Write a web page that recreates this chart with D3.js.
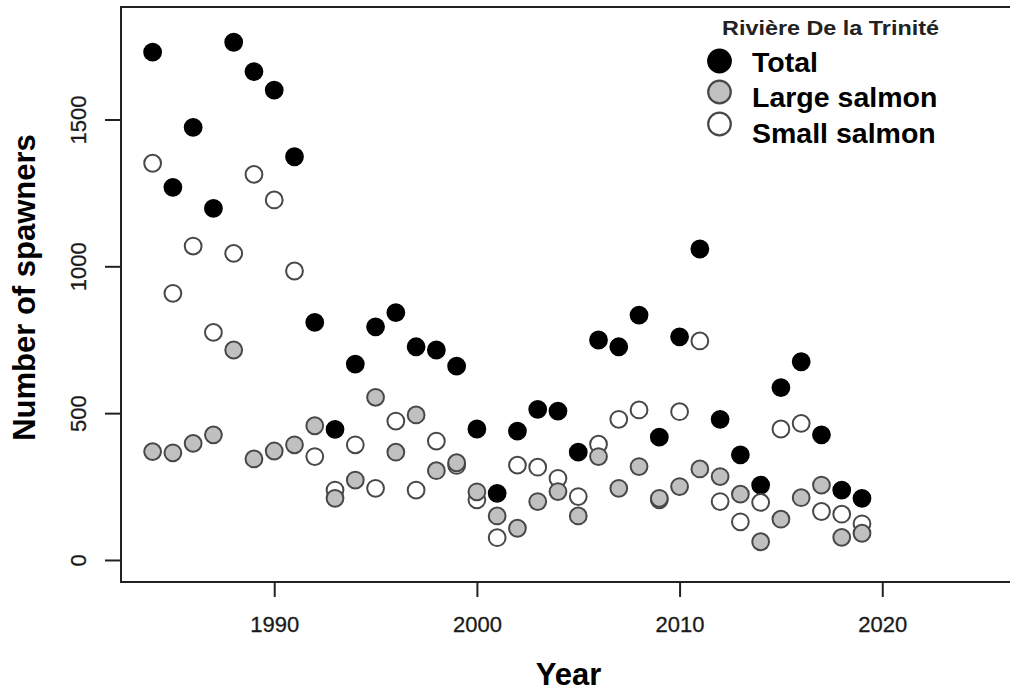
<!DOCTYPE html>
<html>
<head>
<meta charset="utf-8">
<script src="https://cdn.jsdelivr.net/npm/d3@7/dist/d3.min.js"></script>
<style>
  html, body { margin: 0; padding: 0; background: #fff; }
  svg { display: block; font-family: "Liberation Sans", Arial, sans-serif; }
</style>
</head>
<body>
<svg id="chart" width="1010" height="694"></svg>
<script>
// spawner counts, Rivière De la Trinité
var years = d3.range(1984, 2020);
var total = [1729, 1269, 1473, 1197, 1763, 1663, 1600, 1373, 809, 445,
             667, 794, 842, 726, 715, 660, 446, 227, 439, 513,
             507, 367, 749, 726, 834, 418, 760, 1059, 479, 358,
             255, 587, 675, 426, 238, 210];
var large = [369, 365, 397, 426, 715, 344, 371, 392, 457, 210,
             272, 554, 367, 494, 304, 331, 232, 150, 108, 199,
             233, 150, 352, 244, 318, 210, 250, 310, 284, 224,
             62, 139, 212, 255, 77, 91];
var small = [1351, 908, 1069, 775, 1044, 1313, 1226, 984, 352, 238,
             392, 244, 473, 238, 405, 322, 205, 76, 323, 316,
             278, 216, 394, 479, 511, 205, 505, 746, 199, 130,
             196, 446, 465, 165, 156, 123];
var yTicks = [0, 500, 1000, 1500];
var xTicks = [1990, 2000, 2010, 2020];
var legendTitle = "Rivière De la Trinité";
var legendLabels = ["Total", "Large salmon", "Small salmon"];

var svg = d3.select("#chart");
var pLeft = 121, pRight = 1014, pTop = 7, pBottom = 582;

var x = d3.scaleLinear().domain([1982.44, 2026.5]).range([pLeft, pRight]);
var y = d3.scaleLinear().domain([-75, 1883]).range([pBottom, pTop]);

var styles = [
  {fill: "#000", stroke: "#000"},
  {fill: "#c0c0c0", stroke: "#484848"},
  {fill: "#fff", stroke: "#484848"}
];

// box
svg.append("rect")
  .attr("x", pLeft).attr("y", pTop)
  .attr("width", pRight - pLeft).attr("height", pBottom - pTop)
  .attr("fill", "none").attr("stroke", "#222").attr("stroke-width", 2);

// axes
var yAxis = svg.append("g").attr("transform", "translate(" + pLeft + ",0)")
  .call(d3.axisLeft(y).tickValues(yTicks).tickSize(16).tickPadding(0).tickFormat(d3.format("d")));
yAxis.select(".domain").remove();
yAxis.selectAll("line").attr("stroke", "#222").attr("stroke-width", 2);
yAxis.selectAll("text")
  .attr("x", null)
  .attr("transform", "translate(-43,0) rotate(-90)")
  .attr("text-anchor", "middle").attr("dy", "0.35em")
  .attr("font-size", 22).attr("fill", "#1a1a1a")
  .attr("stroke", "#1a1a1a").attr("stroke-width", 0.3);

var xAxis = svg.append("g").attr("transform", "translate(0," + pBottom + ")")
  .call(d3.axisBottom(x).tickValues(xTicks).tickSize(15).tickPadding(0).tickFormat(d3.format("d")));
xAxis.select(".domain").remove();
xAxis.selectAll("line").attr("stroke", "#222").attr("stroke-width", 2);
xAxis.selectAll("text")
  .attr("y", 50).attr("dy", null)
  .attr("font-size", 22).attr("fill", "#1a1a1a")
  .attr("stroke", "#1a1a1a").attr("stroke-width", 0.3);

// titles
svg.append("text")
  .attr("transform", "translate(35,287.5) rotate(-90)")
  .attr("text-anchor", "middle")
  .attr("font-size", 31).attr("font-weight", "bold")
  .text("Number of spawners");
svg.append("text")
  .attr("x", 568.5).attr("y", 685)
  .attr("text-anchor", "middle")
  .attr("font-size", 31).attr("font-weight", "bold")
  .text("Year");

// points: total, then small, then large on top
function drawSeries(vals, st) {
  svg.append("g").selectAll("circle")
    .data(vals.map(function(v, i) { return [years[i], v]; }))
    .join("circle")
    .attr("cx", function(d) { return x(d[0]); })
    .attr("cy", function(d) { return y(d[1]); })
    .attr("r", 8.4)
    .attr("fill", st.fill)
    .attr("stroke", st.stroke)
    .attr("stroke-width", 2);
}
drawSeries(total, styles[0]);
drawSeries(small, styles[2]);
drawSeries(large, styles[1]);

// legend
svg.append("text")
  .attr("x", 722).attr("y", 35)
  .attr("textLength", 217).attr("lengthAdjust", "spacingAndGlyphs")
  .attr("font-size", 21).attr("font-weight", "bold").attr("fill", "#222")
  .text(legendTitle);
var symY = [61, 92, 124], textY = [72, 107, 143];
legendLabels.forEach(function(lab, i) {
  svg.append("circle")
    .attr("cx", 719.5).attr("cy", symY[i]).attr("r", 11.3)
    .attr("fill", styles[i].fill).attr("stroke", styles[i].stroke)
    .attr("stroke-width", 2.2);
  svg.append("text")
    .attr("x", 752).attr("y", textY[i])
    .attr("font-size", 28.5).attr("font-weight", "bold")
    .text(lab);
});
</script>
</body>
</html>
